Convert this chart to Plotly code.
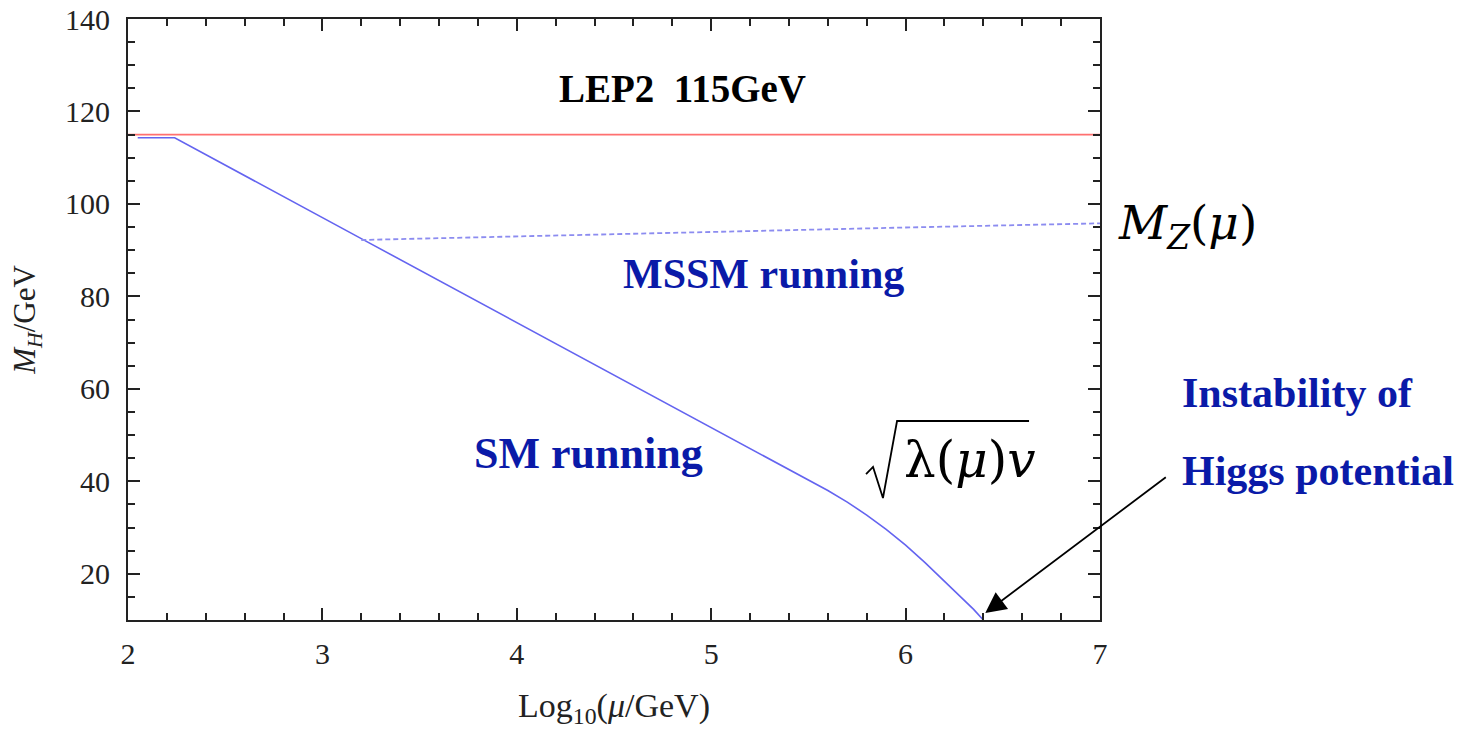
import plotly.graph_objects as go

# ---- data ----
lep2_x = [2.0, 7.0]
lep2_y = [115.0, 115.0]

sm_x = [2.05, 2.24, 3.2, 4.0, 4.7, 5.2, 5.5, 5.6, 5.7, 5.8, 5.9, 6.0, 6.1, 6.2, 6.28, 6.35, 6.40]
sm_y = [114.3, 114.3, 92.5, 74.3, 58.5, 47.1, 40.3, 38.0, 35.5, 32.7, 29.6, 26.2, 22.4, 18.3, 15.0, 12.3, 10.0]

mssm_x = [3.2, 4.0, 5.0, 6.0, 7.0]
mssm_y = [92.2, 93.0, 94.0, 94.9, 95.8]

x_ticks = [2, 3, 4, 5, 6, 7]
y_ticks = [20, 40, 60, 80, 100, 120, 140]

SERIF = "Liberation Serif"
BLUE_TXT = "#0a1aa8"

# plot-area pixel geometry (for decorative paper-coordinate placement)
L, R, T, B = 128, 1100, 19, 620
def px(xp):
    return (xp - L) / (R - L)
def py(yp):
    return (B - yp) / (B - T)

fig = go.Figure()
fig.add_trace(go.Scatter(x=lep2_x, y=lep2_y, mode="lines",
                         line=dict(color="#ff7070", width=1.6), showlegend=False))
fig.add_trace(go.Scatter(x=sm_x, y=sm_y, mode="lines",
                         line=dict(color="#6464f0", width=1.6), showlegend=False))
fig.add_trace(go.Scatter(x=mssm_x, y=mssm_y, mode="lines",
                         line=dict(color="#8c8cf0", width=1.8, dash="5px,3px"), showlegend=False))

axis_common = dict(showline=True, linecolor="#222", linewidth=2, mirror="allticks",
                   ticks="inside", ticklen=12, tickwidth=1.6, tickcolor="#222",
                   showgrid=False, zeroline=False, automargin=False,
                   tickfont=dict(family=SERIF, size=30, color="#222"))

fig.update_xaxes(range=[2, 7], tickvals=x_ticks, ticklabelstandoff=6,
                 minor=dict(dtick=0.2, ticks="inside", ticklen=7, tickwidth=1.6, tickcolor="#222", showgrid=False),
                 title=dict(text="Log<sub>10</sub>(<i>μ</i>/GeV)", font=dict(family=SERIF, size=34, color="#222"), standoff=26),
                 **axis_common)
fig.update_yaxes(range=[10, 140], tickvals=y_ticks, ticklabelstandoff=10,
                 minor=dict(dtick=5, ticks="inside", ticklen=7, tickwidth=1.6, tickcolor="#222", showgrid=False),
                 title=dict(text="<i>M<sub>H</sub></i>/GeV", font=dict(family=SERIF, size=31, color="#222"), standoff=20),
                 **axis_common)

ann = []
ann.append(dict(x=4.85, y=125.0, xref="x", yref="y", text="<b>LEP2  115GeV</b>", showarrow=False,
                xanchor="center", yanchor="middle",
                font=dict(family=SERIF, size=39, color="black")))
ann.append(dict(x=5.27, y=84.8, xref="x", yref="y", text="<b>MSSM running</b>", showarrow=False,
                xanchor="center", yanchor="middle",
                font=dict(family=SERIF, size=42, color=BLUE_TXT)))
ann.append(dict(x=4.37, y=46.0, xref="x", yref="y", text="<b>SM running</b>", showarrow=False,
                xanchor="center", yanchor="middle",
                font=dict(family=SERIF, size=44, color=BLUE_TXT)))
ann.append(dict(x=px(1180), y=py(393), xref="paper", yref="paper", xanchor="left", yanchor="middle",
                text="<b>Instability of</b>", showarrow=False,
                font=dict(family=SERIF, size=42, color=BLUE_TXT)))
ann.append(dict(x=px(1180), y=py(471), xref="paper", yref="paper", xanchor="left", yanchor="middle",
                text="<b>Higgs potential</b>", showarrow=False,
                font=dict(family=SERIF, size=42, color=BLUE_TXT)))
ann.append(dict(x=px(1116), y=py(226), xref="paper", yref="paper", xanchor="left", yanchor="middle",
                text="<i>M</i><sub><i>Z</i></sub>(<i>μ</i>)", showarrow=False,
                font=dict(family="DejaVu Serif", size=47, color="black")))
# sqrt(lambda(mu) v): radical drawn as a path, argument as text
ann.append(dict(x=px(902), y=py(460), xref="paper", yref="paper", xanchor="left", yanchor="middle",
                text="λ(<i>μ</i>)<i>v</i>", showarrow=False,
                font=dict(family="DejaVu Serif", size=50, color="black")))
# arrow
ann.append(dict(x=6.41, y=11.5, xref="x", yref="y", ax=182, ay=-137, axref="pixel", ayref="pixel",
                text="", showarrow=True, arrowhead=2, arrowsize=2.3, arrowwidth=1.8, arrowcolor="black"))

radical = ("M {:.4f},{:.4f} L {:.4f},{:.4f} L {:.4f},{:.4f} L {:.4f},{:.4f} L {:.4f},{:.4f}".format(
    px(866), py(474), px(873), py(467), px(883), py(498), px(897), py(421), px(1029), py(421)))

fig.update_layout(
    width=1461, height=729,
    margin=dict(l=L, r=1461 - R, t=T, b=729 - B, autoexpand=False),
    paper_bgcolor="white", plot_bgcolor="white",
    annotations=ann,
    shapes=[dict(type="path", xref="paper", yref="paper", path=radical,
                 line=dict(color="black", width=1.8))],
)

fig.write_html("out.html")
